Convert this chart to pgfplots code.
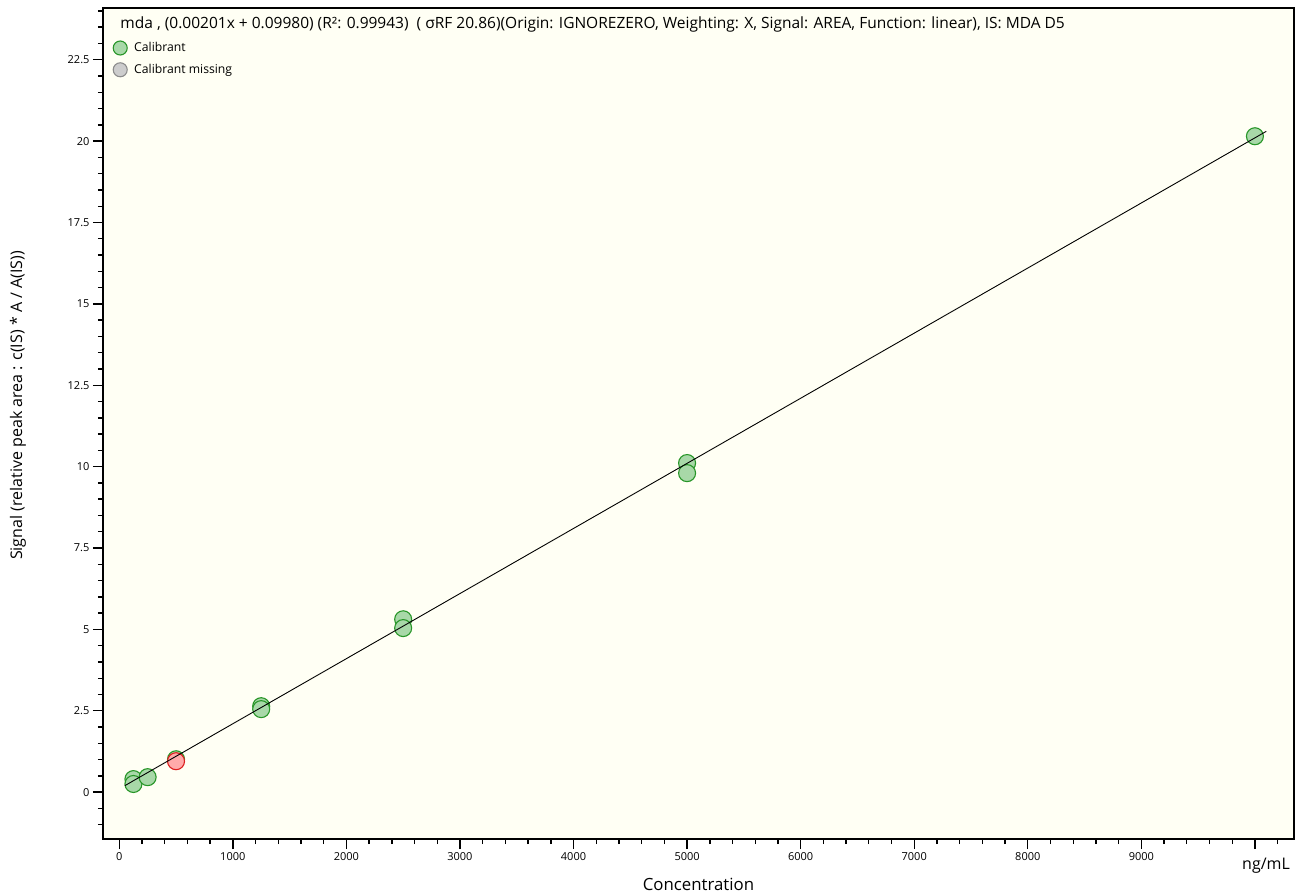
\documentclass[border=0pt]{standalone}
\usepackage{pgfplots}
\pgfplotsset{compat=1.18}
\usepackage{fontspec}
\setmainfont{Open Sans}
\definecolor{bgc}{RGB}{255,255,244}
\definecolor{gfill}{RGB}{168,216,168}
\definecolor{gedge}{RGB}{40,150,40}
\definecolor{rfill}{RGB}{255,170,170}
\definecolor{redge}{RGB}{220,30,30}
\definecolor{grfill}{RGB}{205,205,205}
\definecolor{gredge}{RGB}{140,140,140}
\begin{document}
\begin{tikzpicture}
\begin{axis}[
  at={(0pt,0pt)}, anchor=south west,
  width=1191pt, height=831pt, scale only axis,
  clip mode=individual,
  xmin=-143, xmax=10344, ymin=-1.44, ymax=24.09,
  scaled x ticks=false, scaled y ticks=false,
  axis background/.style={fill=bgc},
  axis line style={line width=1.6pt, black},
  tick style={line width=1.4pt, black},
  major tick length=10pt, minor tick length=5pt,
  tick align=outside,
  xtick pos=left, ytick pos=left,
  xtick={0,1000,2000,3000,4000,5000,6000,7000,8000,9000,10000},
  xticklabels={0,1000,2000,3000,4000,5000,6000,7000,8000,9000,{}},
  minor xtick={0,200,...,10200},
  ytick={0,2.5,5,7.5,10,12.5,15,17.5,20,22.5},
  yticklabels={0,2.5,5,7.5,10,12.5,15,17.5,20,22.5},
  minor ytick={-1,-0.5,...,24},
  tick label style={font=\fontsize{11}{13}\selectfont},
  /pgf/number format/assume math mode=true,
  /pgf/number format/1000 sep={},
  xlabel={Concentration},
  ylabel={Signal (relative peak area : c(IS) * A / A(IS))},
  xlabel style={font=\fontsize{16.8}{20}\selectfont, at={(rel axis cs:0.5,0)}, anchor=center, yshift=-45pt},
  ylabel style={font=\fontsize{16}{19}\selectfont, at={(rel axis cs:0,0.5217)}, anchor=center, yshift=85pt},
  legend image code/.code={\path[#1] plot coordinates {(7pt,0pt)};},
  legend style={at={(rel axis cs:0.0059,0.9634)}, anchor=north west, draw=none, fill=none,
    font=\fontsize{12.2}{14}\selectfont, row sep=7pt, column sep=5pt},
  legend cell align=left,
]
\addplot[only marks, mark=*, mark size=8.5pt, mark options={fill=gfill, draw=gedge, line width=1.1pt}, forget plot]
  coordinates {(125,0.40)(125,0.25)(250,0.46)(500,1.01)(1250,2.64)(1250,2.55)(2500,5.31)(2500,5.04)(5000,10.11)(5000,9.80)(10000,20.15)};
\addplot[only marks, mark=*, mark size=8.5pt, mark options={fill=rfill, draw=redge, line width=1.1pt}, forget plot]
  coordinates {(500,0.95)};
\addplot[black, line width=0.9pt, forget plot] coordinates {(50,0.2003)(10100,20.3008)};
\addlegendimage{only marks, mark=*, mark size=7pt, mark options={fill=gfill, draw=gedge, line width=1.1pt}}
\addlegendentry{Calibrant}
\addlegendimage{only marks, mark=*, mark size=7pt, mark options={fill=grfill, draw=gredge, line width=1.1pt}}
\addlegendentry{Calibrant missing}
\node[anchor=west, font=\fontsize{15.5}{18}\selectfont] at (rel axis cs:0.0117,0.9796)
  {mda , (0.00201x + 0.09980) (R²: 0.99943)\ \ ( σRF 20.86)(Origin: IGNOREZERO, Weighting: X, Signal: AREA, Function: linear), IS: MDA D5};
\node[anchor=center, font=\fontsize{16}{19}\selectfont] at (axis cs:10098,-1.44) [yshift=-27pt] {ng/mL};
\end{axis}
\pgfresetboundingbox
\path[use as bounding box] (-103pt,-56pt) rectangle (1200pt,839pt);
\end{tikzpicture}
\end{document}
